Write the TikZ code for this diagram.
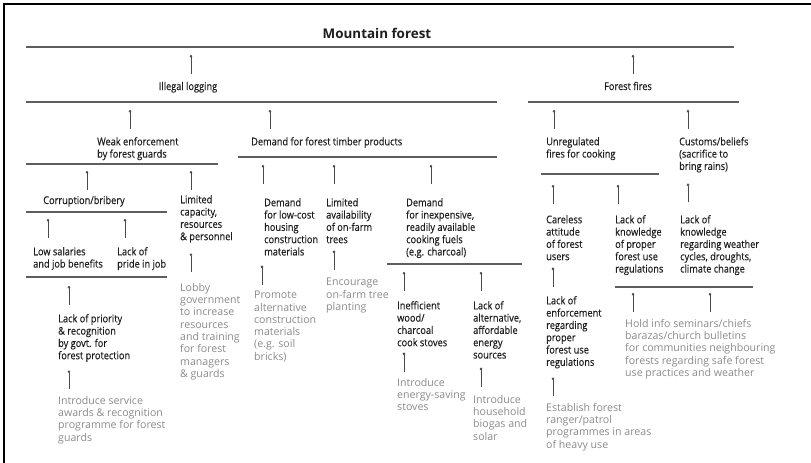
\documentclass[tikz,border=0pt]{standalone}
\usepackage{fontspec}
\setmainfont{Open Sans}
\newfontfamily\causefont[FakeStretch=0.87,FakeBold=0.3]{Open Sans}
\usetikzlibrary{arrows.meta,calc}
\definecolor{ink}{HTML}{1E1E1E}
\definecolor{soft}{HTML}{8A8A8A}
\definecolor{rule}{HTML}{5E5E5E}
\definecolor{twig}{HTML}{4A4A4A}
\tikzset{
  heading/.style={anchor=base, inner sep=0, text=ink, font=\bfseries\fontsize{13.4}{16}\selectfont},
  label/.style={anchor=base, inner sep=0, text=ink, font=\causefont\fontsize{10.6}{12.3}\selectfont},
  cause/.style={anchor=north west, yshift=8pt, inner sep=0, align=left, text=ink, font=\causefont\fontsize{10.6}{12.3}\selectfont},
  remedy/.style={anchor=north west, yshift=8pt, inner sep=0, align=left, text=soft, font=\fontsize{10.6}{12.3}\selectfont},
  bar/.style={draw=rule, line width=1.4pt},
  stubline/.style={draw=twig, line width=0.6pt, -{Circle[length=2.6pt]}},
}
% a short upward link whose dot sits #3 below the reference point #1, at x = #2
\newcommand\stub[3]{\draw[stubline] ($(#1 -| #2,0)+(0,#3+19)$) -- ($(#1 -| #2,0)+(0,#3)$);}
\begin{document}
\begin{tikzpicture}[x=1pt,y=-1pt]
\useasboundingbox (0,0) rectangle (811,463);
% frame
\draw[line width=1.5pt] (4,463) -- (4,4) -- (811,4);

% root
\node[heading] (mtn) at (377,38) {Mountain forest};
\coordinate (b0) at (26,47);
\draw[bar] (b0) -- ++(708,0);

% level 1
\node[label] (illegal) at (188,90) {Illegal logging};
\node[label] (fires) at (628,90) {Forest fires};
\stub{b0}{191}{8}
\stub{b0}{633}{8}
\coordinate (b1) at (26,102);
\draw[bar] (b1) -- ++(471,0);
\coordinate (b1f) at (528,102);
\draw[bar] (b1f) -- ++(211,0);

% level 2
\node[cause] (weak) at (97,145) {Weak enforcement\\by forest guards};
\node[cause] (timber) at (251,145) {Demand for forest timber products};
\node[cause] (unreg) at (546,145) {Unregulated\\fires for cooking};
\node[cause] (customs) at (679,145) {Customs/beliefs\\(sacrifice to\\bring rains)};
\stub{b1}{130}{8}
\stub{b1}{270}{8}
\stub{b1f}{554}{8}
\stub{b1f}{688}{8}
\coordinate (b2) at (26,164);
\draw[bar] (b2) -- ++(192,0);
\coordinate (b2d) at (238,157);
\draw[bar] (b2d) -- ++(259,0);
\coordinate (b2u) at (541,174);
\draw[bar] (b2u) -- ++(118,0);

% level 3
\node[label] (corrupt) at (84,204) {Corruption/bribery};
\node[cause] (limcap) at (180,203) {Limited\\capacity,\\resources\\\& personnel};
\node[cause] (demlow) at (264,206) {Demand\\for low-cost\\housing\\construction\\materials};
\node[cause] (limavail) at (326,206) {Limited\\availability\\of on-farm\\trees};
\node[cause] (deminexp) at (406,206) {Demand\\for inexpensive,\\readily available\\cooking fuels\\(e.g. charcoal)};
\node[cause] (careless) at (546,223) {Careless\\attitude\\of forest\\users};
\node[cause] (lkproper) at (615,223) {Lack of\\knowledge\\of proper\\forest use\\regulations};
\node[cause] (lkweather) at (680,223) {Lack of\\knowledge\\regarding weather\\cycles, droughts,\\climate change};
\stub{b2}{87}{7}
\stub{b2}{191}{7}
\stub{b2d}{263}{8}
\stub{b2d}{334}{8}
\stub{b2d}{431}{8}
\stub{b2u}{553}{11}
\stub{b2u}{618}{11}
\stub{customs.south}{688}{10.8}
\coordinate (b3) at (26,212);
\draw[bar] (b3) -- ++(141,0);
\coordinate (b3d) at (387,264);
\draw[bar] (b3d) -- ++(135,0);
\coordinate (b3w) at (615,287);
\draw[bar] (b3w) -- ++(138,0);

% level 4
\node[cause] (lowsal) at (33,255) {Low salaries\\and job benefits};
\node[cause] (pride) at (117,255) {Lack of\\pride in job};
\node[cause] (ineff) at (397,309) {Inefficient\\wood/\\charcoal\\cook stoves};
\node[cause] (lkalt) at (473,309) {Lack of\\alternative,\\affordable\\energy\\sources};
\node[cause] (lkenf) at (546,304) {Lack of\\enforcement\\regarding\\proper\\forest use\\regulations};
\stub{b3}{48}{7}
\stub{b3}{125}{7}
\stub{b3d}{404}{8}
\stub{b3d}{481}{8}
\stub{careless.south}{553}{7.1}
\coordinate (b4) at (26,277);
\draw[bar] (b4) -- ++(141,0);

% level 5
\node[cause] (priority) at (58,322) {Lack of priority\\\& recognition\\by govt. for\\forest protection};
\stub{b4}{69}{9}

% remedies
\node[remedy] (lobby) at (180,291) {Lobby\\government\\to increase\\resources\\and training\\for forest\\managers\\\& guards};
\node[remedy] (promote) at (254,299) {Promote\\alternative\\construction\\materials\\(e.g. soil\\bricks)};
\node[remedy] (encourage) at (326,286) {Encourage\\on-farm tree\\planting};
\node[remedy] (service) at (58,404) {Introduce service\\awards \& recognition\\programme for forest\\guards};
\node[remedy] (stoves) at (397,386) {Introduce\\energy-saving\\stoves};
\node[remedy] (biogas) at (473,403) {Introduce\\household\\biogas and\\solar};
\node[remedy] (ranger) at (546,411) {Establish forest\\ranger/patrol\\programmes in areas\\of heavy use};
\node[remedy] (holdinfo) at (625,327) {Hold info seminars/chiefs\\barazas/church bulletins\\for communities neighbouring\\forests regarding safe forest\\use practices and weather};
\stub{limcap.south}{191}{10.5}
\stub{demlow.south}{262}{9.8}
\stub{limavail.south}{334}{7.1}
\stub{priority.south}{69}{8.5}
\stub{ineff.south}{404}{6.1}
\stub{lkalt.south}{481}{8.8}
\stub{lkenf.south}{553}{8.9}
\stub{b3w}{633}{6}
\stub{b3w}{710}{6}
\end{tikzpicture}
\end{document}
